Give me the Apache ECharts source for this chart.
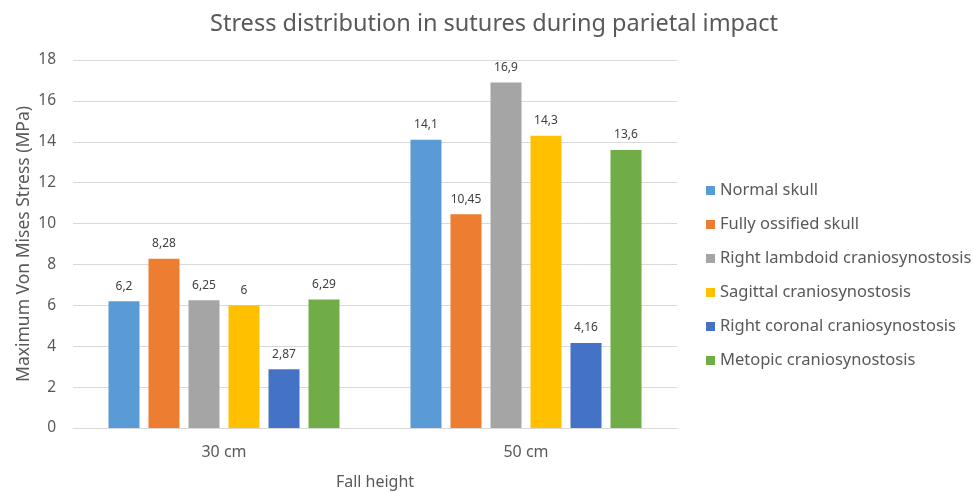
<!DOCTYPE html>
<html>
<head>
<meta charset="utf-8">
<script src="https://cdn.jsdelivr.net/npm/echarts@6/dist/echarts.min.js"></script>
<style>
    html, body { margin: 0; padding: 0; background: #fff; }
    #chart { width: 973px; height: 492px; }
</style>
</head>
<body>
<div id="chart"></div>
<script>
// 数据
var categories = ['30 cm', '50 cm'];
var seriesNames = ['Normal skull', 'Fully ossified skull', 'Right lambdoid craniosynostosis',
    'Sagittal craniosynostosis', 'Right coronal craniosynostosis', 'Metopic craniosynostosis'];
var normalSkull = [6.2, 14.1];
var fullyOssified = [8.28, 10.45];
var rightLambdoid = [6.25, 16.9];
var sagittal = [6, 14.3];
var rightCoronal = [2.87, 4.16];
var metopic = [6.29, 13.6];
var yTicks = [0, 2, 4, 6, 8, 10, 12, 14, 16, 18];

var seriesData = [normalSkull, fullyOssified, rightLambdoid, sagittal, rightCoronal, metopic];
var colors = ['#5b9bd5', '#ed7d31', '#a5a5a5', '#ffc000', '#4472c4', '#70ad47'];
var font = 'Noto Sans';

var mychart = echarts.init(document.getElementById('chart'));
var option = {
    color: colors,
    textStyle: { fontFamily: font },
    title: {
        text: 'Stress distribution in sutures during parietal impact',
        left: 489,
        textAlign: 'center',
        top: 7,
        textStyle: { color: '#595959', fontSize: 23.5, fontWeight: 'normal', fontFamily: font }
    },
    legend: {
        orient: 'vertical',
        left: 701,
        top: 177,
        itemWidth: 9,
        itemHeight: 9,
        itemGap: 17,
        icon: 'rect',
        data: seriesNames,
        textStyle: { color: '#595959', fontSize: 16.5, fontFamily: font }
    },
    grid: {
        left: 73,
        right: 973 - 677,
        top: 60,
        bottom: 64,
        outerBoundsMode: 'none'
    },
    xAxis: {
        type: 'category',
        data: categories,
        name: 'Fall height',
        nameLocation: 'middle',
        nameGap: 46,
        nameTextStyle: { color: '#595959', fontSize: 16, fontFamily: font },
        axisLine: { lineStyle: { color: '#d9d9d9' } },
        axisTick: { show: false },
        axisLabel: { color: '#595959', fontSize: 16, margin: 16 }
    },
    yAxis: {
        type: 'value',
        min: yTicks[0],
        max: yTicks[yTicks.length - 1],
        interval: 2,
        name: 'Maximum Von Mises Stress (MPa)',
        nameLocation: 'middle',
        nameGap: 40,
        nameMoveOverlap: false,
        nameTextStyle: { color: '#595959', fontSize: 17.5, fontFamily: font },
        axisLine: { show: false },
        axisTick: { show: false },
        axisLabel: { color: '#595959', fontSize: 15.5, margin: 17 },
        splitLine: { lineStyle: { color: '#d9d9d9' } }
    },
    series: seriesNames.map(function (name, i) {
        return {
            name: name,
            type: 'bar',
            data: seriesData[i],
            barGap: '29%',
            barCategoryGap: '23.5%',
            label: {
                show: true,
                position: 'top',
                distance: 9,
                color: '#404040',
                fontSize: 12,
                fontFamily: font,
                formatter: function (p) {
                    return String(p.value).replace('.', ',');
                }
            }
        };
    })
};
mychart.setOption(option);
</script>
</body>
</html>
